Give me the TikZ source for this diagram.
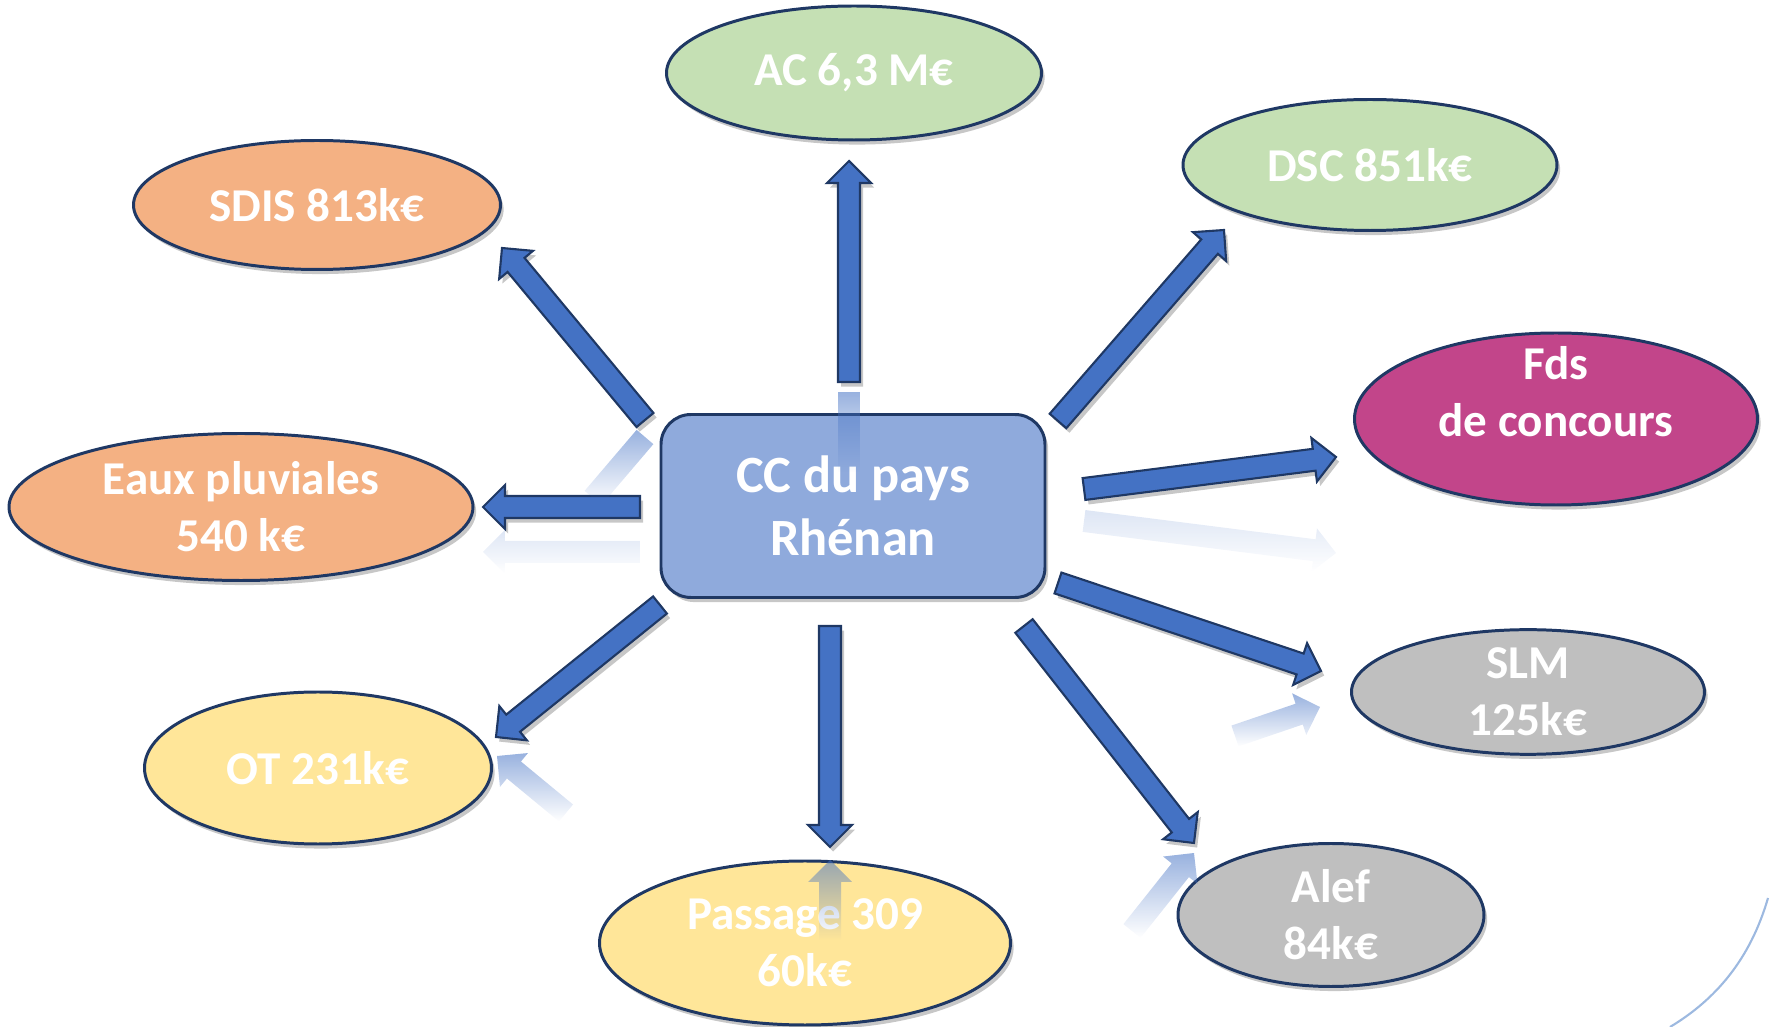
\documentclass[tikz,border=0pt]{standalone}
\usepackage{fontspec}
\setmainfont{Carlito}
\usetikzlibrary{positioning,shapes.geometric,calc,shadows,fadings}
\definecolor{navyLine}{HTML}{1F3864}
\definecolor{arrowBlue}{HTML}{4472C4}
\definecolor{boxBlue}{HTML}{8FAADC}
\definecolor{greenFill}{HTML}{C5E0B4}
\definecolor{orangeFill}{HTML}{F4B183}
\definecolor{pinkFill}{HTML}{C2458A}
\definecolor{yellowFill}{HTML}{FFE699}
\definecolor{greyFill}{HTML}{BFBFBF}
\definecolor{arcBlue}{HTML}{9DB9E0}

\tikzfading[name=reflFade, top color=transparent!45, bottom color=transparent!100]
\tikzfading[name=reflFadeLight, top color=transparent!82, bottom color=transparent!100]

% freccia piena: [stile]{partenza}{punta}
\newcommand{\blockArrow}[3][arrowShape]{%
  \path[#1] ($(#2)!0.11cm!90:(#3)$) -- ($(#3)!0.246cm!-26.57:(#2)$) -- ($(#3)!0.311cm!-45:(#2)$)
    -- (#3) -- ($(#3)!0.311cm!45:(#2)$) -- ($(#3)!0.246cm!26.57:(#2)$) -- ($(#2)!0.11cm!-90:(#3)$) -- cycle;}
% solo il fusto (per i riflessi)
\newcommand{\shaftPiece}[3][reflShape]{%
  \path[#1] ($(#2)!0.11cm!90:(#3)$) -- ($(#3)!0.11cm!-90:(#2)$) -- ($(#3)!0.11cm!90:(#2)$) -- ($(#2)!0.11cm!-90:(#3)$) -- cycle;}

\begin{document}
\begin{tikzpicture}[
    every node/.style={text=white},
    softShadow/.style={drop shadow={shadow xshift=0.9pt, shadow yshift=-1.3pt, opacity=0.22, fill=black}},
    ovalText/.style={align=center, font=\fontsize{13.4}{16.2}\selectfont\bfseries},
    ovalNode/.style={ellipse, draw=navyLine, line width=0.85pt, inner sep=0pt, ovalText, softShadow},
    centerBox/.style={rectangle, rounded corners=0.3cm, draw=navyLine, line width=0.85pt, fill=boxBlue,
        align=center, font=\fontsize{14.9}{17.9}\selectfont\bfseries, softShadow},
    arrowShape/.style={fill=arrowBlue, draw=navyLine, line width=0.6pt, line join=miter, softShadow},
    reflShape/.style={fill=arrowBlue, path fading=reflFade},
    reflLight/.style={fill=arrowBlue, path fading=reflFadeLight},
    arcLine/.style={draw=arcBlue, line width=0.6pt}
]
    \useasboundingbox (0,0) rectangle (17.74,10.27);

    % Nodo centrale
    \node[centerBox, minimum width=3.84cm, minimum height=1.83cm] (cc) at (8.53,5.21) {CC du pays\\Rhénan};

    % Ellissi
    \node[ovalNode, fill=greenFill, minimum width=3.75cm, minimum height=1.34cm] (ac) at (8.54,9.54) {AC 6,3 M€};
    \node[ovalNode, fill=greenFill, minimum width=3.74cm, minimum height=1.31cm] (dsc) at (13.70,8.62) {DSC 851k€};
    \node[ovalNode, fill=pinkFill, minimum width=4.03cm, minimum height=1.72cm,
        label={[ovalText, yshift=0.27cm]center:Fds\\de concours}] (fds) at (15.56,6.08) {};
    \node[ovalNode, fill=greyFill, minimum width=3.53cm, minimum height=1.17cm] (slm) at (15.28,3.35) {SLM\\125k€};
    \node[ovalNode, fill=greyFill, minimum width=3.06cm, minimum height=1.43cm] (alef) at (13.31,1.12) {Alef\\84k€};
    \node[ovalNode, fill=yellowFill, minimum width=4.11cm, minimum height=1.64cm] (passage) at (8.05,0.84) {Passage 309\\60k€};
    \node[ovalNode, fill=yellowFill, minimum width=3.47cm, minimum height=1.52cm] (ot) at (3.18,2.59) {OT 231k€};
    \node[ovalNode, fill=orangeFill, minimum width=4.64cm, minimum height=1.47cm] (eaux) at (2.41,5.20) {Eaux pluviales\\540 k€};
    \node[ovalNode, fill=orangeFill, minimum width=3.67cm, minimum height=1.29cm] (sdis) at (3.17,8.22) {SDIS 813k€};

    % Estremi delle frecce
    \coordinate (acFrom) at (8.49,6.45);       \coordinate (acTo) at (8.49,8.66);
    \coordinate (sdisFrom) at (6.45,6.07);     \coordinate (sdisTo) at (5.02,7.79);
    \coordinate (dscFrom) at (10.58,6.06);     \coordinate (dscTo) at (12.24,7.97);
    \coordinate (fdsFrom) at (10.84,5.38);     \coordinate (fdsTo) at (13.36,5.70);
    \coordinate (eauxFrom) at (6.40,5.20);     \coordinate (eauxTo) at (4.83,5.20);
    \coordinate (slmFrom) at (10.58,4.44);     \coordinate (slmTo) at (13.21,3.56);
    \coordinate (alefFrom) at (10.24,4.01);    \coordinate (alefTo) at (11.94,1.84);
    \coordinate (passageFrom) at (8.30,4.01);  \coordinate (passageTo) at (8.30,1.80);
    \coordinate (otFrom) at (6.60,4.22);       \coordinate (otTo) at (4.96,2.90);

    % Frecce
    \foreach \n in {ac,sdis,dsc,fds,eaux,slm,alef,passage,ot}
        {\blockArrow{\n From}{\n To}}

    % Riflessi
    \coordinate (acReflA) at (8.49,6.35);      \coordinate (acReflB) at (8.49,5.55);
    \coordinate (sdisReflA) at (6.45,5.90);    \coordinate (sdisReflB) at (5.93,5.29);
    \coordinate (eauxReflA) at (6.40,4.75);    \coordinate (eauxReflB) at (4.83,4.75);
    \coordinate (fdsReflA) at (10.84,5.06);    \coordinate (fdsReflB) at (13.36,4.74);
    \coordinate (passageReflA) at (8.30,0.87); \coordinate (passageReflB) at (8.30,1.67);
    \coordinate (otReflA) at (5.66,2.14);      \coordinate (otReflB) at (4.97,2.71);
    \coordinate (slmReflA) at (12.35,2.91);    \coordinate (slmReflB) at (13.20,3.20);
    \coordinate (alefReflA) at (11.32,0.96);   \coordinate (alefReflB) at (11.94,1.74);
    \shaftPiece{acReflA}{acReflB}
    \shaftPiece{sdisReflA}{sdisReflB}
    \blockArrow[reflLight]{eauxReflA}{eauxReflB}
    \blockArrow[reflLight]{fdsReflA}{fdsReflB}
    \foreach \n in {passage,ot,slm,alef}
        {\blockArrow[reflShape]{\n ReflA}{\n ReflB}}

    % Arco in basso a destra
    \draw[arcLine] (17.68,1.29) .. controls (17.50,0.67) and (17.15,0.27) .. (16.70,0.0);
\end{tikzpicture}
\end{document}
